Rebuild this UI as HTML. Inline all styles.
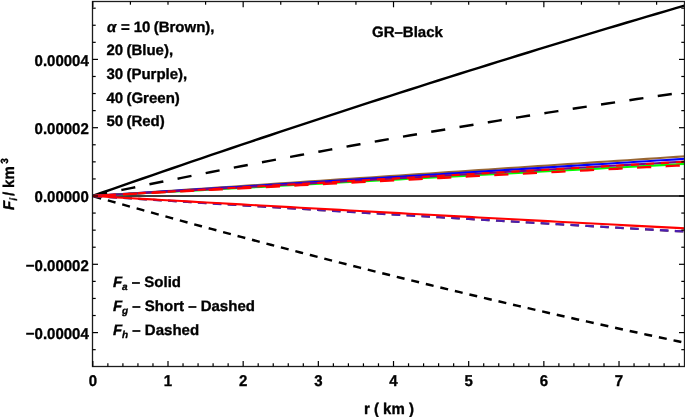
<!DOCTYPE html>
<html><head><meta charset="utf-8"><style>
html,body{margin:0;padding:0;background:#fff;width:685px;height:417px;overflow:hidden}
svg{display:block}
.t{text-rendering:geometricPrecision;font-family:"Liberation Sans",sans-serif;font-weight:bold;font-size:15px;fill:#000;stroke:#000;stroke-width:0.35px}
.l2{text-rendering:geometricPrecision;font-family:"Liberation Sans",sans-serif;font-weight:bold;font-size:15px;fill:#000;stroke:#000;stroke-width:0.35px}
.l{text-rendering:geometricPrecision;font-family:"Liberation Sans",sans-serif;font-weight:bold;font-size:15px;fill:#000;stroke:#000;stroke-width:0.35px;word-spacing:-0.9px}
</style></head><body><svg width="685" height="417" viewBox="0 0 685 417"><clipPath id="cp"><rect x="92.5" y="1.5" width="592.0" height="365.0"/></clipPath><g clip-path="url(#cp)"><line x1="92.5" y1="196.0" x2="684.5" y2="196.0" stroke="#3c3c3c" stroke-width="2"/><path d="M92.50,196.00 L102.40,192.53 L112.30,189.06 L122.20,185.60 L132.10,182.16 L142.00,178.72 L151.90,175.30 L161.80,171.88 L171.70,168.48 L181.60,165.08 L191.50,161.70 L201.40,158.32 L211.30,154.95 L221.20,151.60 L231.10,148.25 L241.00,144.92 L250.90,141.59 L260.80,138.27 L270.70,134.97 L280.60,131.67 L290.50,128.38 L300.40,125.11 L310.30,121.84 L320.20,118.58 L330.10,115.33 L340.00,112.10 L349.90,108.87 L359.80,105.65 L369.70,102.44 L379.60,99.25 L389.50,96.06 L399.40,92.88 L409.30,89.71 L419.20,86.55 L429.10,83.41 L439.00,80.27 L448.90,77.14 L458.80,74.02 L468.70,70.91 L478.60,67.81 L488.50,64.73 L498.40,61.65 L508.30,58.58 L518.20,55.52 L528.10,52.47 L538.00,49.43 L547.90,46.40 L557.80,43.38 L567.70,40.37 L577.60,37.37 L587.50,34.38 L597.40,31.40 L607.30,28.43 L617.20,25.47 L627.10,22.52 L637.00,19.58 L646.90,16.65 L656.80,13.73 L666.70,10.82 L676.60,7.92 L686.50,5.03" fill="none" stroke="#000" stroke-width="2.45"/><path d="M92.50,196.00 L102.40,193.94 L112.30,191.89 L122.20,189.86 L132.10,187.83 L142.00,185.82 L151.90,183.81 L161.80,181.82 L171.70,179.84 L181.60,177.87 L191.50,175.91 L201.40,173.96 L211.30,172.02 L221.20,170.09 L231.10,168.18 L241.00,166.27 L250.90,164.38 L260.80,162.50 L270.70,160.62 L280.60,158.76 L290.50,156.91 L300.40,155.07 L310.30,153.25 L320.20,151.43 L330.10,149.62 L340.00,147.83 L349.90,146.04 L359.80,144.27 L369.70,142.51 L379.60,140.76 L389.50,139.02 L399.40,137.29 L409.30,135.57 L419.20,133.86 L429.10,132.16 L439.00,130.48 L448.90,128.80 L458.80,127.14 L468.70,125.49 L478.60,123.85 L488.50,122.22 L498.40,120.60 L508.30,118.99 L518.20,117.39 L528.10,115.80 L538.00,114.23 L547.90,112.66 L557.80,111.11 L567.70,109.57 L577.60,108.03 L587.50,106.51 L597.40,105.00 L607.30,103.51 L617.20,102.02 L627.10,100.54 L637.00,99.07 L646.90,97.62 L656.80,96.18 L666.70,94.74 L676.60,93.32 L686.50,91.91" fill="none" stroke="#000" stroke-width="2.45" stroke-dasharray="14.2 14.465" stroke-dashoffset="-0.8"/><path d="M92.50,196.00 L102.40,198.81 L112.30,201.61 L122.20,204.40 L132.10,207.17 L142.00,209.93 L151.90,212.68 L161.80,215.42 L171.70,218.15 L181.60,220.86 L191.50,223.56 L201.40,226.25 L211.30,228.93 L221.20,231.60 L231.10,234.25 L241.00,236.89 L250.90,239.52 L260.80,242.14 L270.70,244.74 L280.60,247.33 L290.50,249.91 L300.40,252.48 L310.30,255.03 L320.20,257.58 L330.10,260.11 L340.00,262.63 L349.90,265.14 L359.80,267.63 L369.70,270.11 L379.60,272.58 L389.50,275.04 L399.40,277.49 L409.30,279.92 L419.20,282.34 L429.10,284.75 L439.00,287.15 L448.90,289.53 L458.80,291.91 L468.70,294.27 L478.60,296.62 L488.50,298.95 L498.40,301.28 L508.30,303.59 L518.20,305.89 L528.10,308.18 L538.00,310.45 L547.90,312.71 L557.80,314.97 L567.70,317.20 L577.60,319.43 L587.50,321.65 L597.40,323.85 L607.30,326.04 L617.20,328.22 L627.10,330.38 L637.00,332.54 L646.90,334.68 L656.80,336.81 L666.70,338.92 L676.60,341.03 L686.50,343.12" fill="none" stroke="#000" stroke-width="2.45" stroke-dasharray="8.0 6.945" stroke-dashoffset="-1.0"/><path d="M92.50,196.00 L102.40,195.34 L112.30,194.67 L122.20,194.01 L132.10,193.35 L142.00,192.68 L151.90,192.02 L161.80,191.36 L171.70,190.69 L181.60,190.03 L191.50,189.37 L201.40,188.70 L211.30,188.04 L221.20,187.38 L231.10,186.71 L241.00,186.05 L250.90,185.39 L260.80,184.72 L270.70,184.06 L280.60,183.40 L290.50,182.73 L300.40,182.07 L310.30,181.41 L320.20,180.74 L330.10,180.08 L340.00,179.42 L349.90,178.75 L359.80,178.09 L369.70,177.43 L379.60,176.76 L389.50,176.10 L399.40,175.44 L409.30,174.77 L419.20,174.11 L429.10,173.45 L439.00,172.78 L448.90,172.12 L458.80,171.46 L468.70,170.79 L478.60,170.13 L488.50,169.47 L498.40,168.80 L508.30,168.14 L518.20,167.48 L528.10,166.81 L538.00,166.15 L547.90,165.49 L557.80,164.82 L567.70,164.16 L577.60,163.50 L587.50,162.84 L597.40,162.17 L607.30,161.51 L617.20,160.85 L627.10,160.18 L637.00,159.52 L646.90,158.86 L656.80,158.19 L666.70,157.53 L676.60,156.87 L686.50,156.20" fill="none" stroke="#996633" stroke-width="2.1"/><path d="M92.50,196.00 L102.40,195.38 L112.30,194.76 L122.20,194.14 L132.10,193.51 L142.00,192.89 L151.90,192.27 L161.80,191.65 L171.70,191.03 L181.60,190.41 L191.50,189.78 L201.40,189.16 L211.30,188.54 L221.20,187.92 L231.10,187.30 L241.00,186.68 L250.90,186.06 L260.80,185.43 L270.70,184.81 L280.60,184.19 L290.50,183.57 L300.40,182.95 L310.30,182.33 L320.20,181.71 L330.10,181.08 L340.00,180.46 L349.90,179.84 L359.80,179.22 L369.70,178.60 L379.60,177.98 L389.50,177.35 L399.40,176.73 L409.30,176.11 L419.20,175.49 L429.10,174.87 L439.00,174.25 L448.90,173.63 L458.80,173.00 L468.70,172.38 L478.60,171.76 L488.50,171.14 L498.40,170.52 L508.30,169.90 L518.20,169.27 L528.10,168.65 L538.00,168.03 L547.90,167.41 L557.80,166.79 L567.70,166.17 L577.60,165.55 L587.50,164.92 L597.40,164.30 L607.30,163.68 L617.20,163.06 L627.10,162.44 L637.00,161.82 L646.90,161.20 L656.80,160.57 L666.70,159.95 L676.60,159.33 L686.50,158.71" fill="none" stroke="#0000ff" stroke-width="2.1"/><path d="M92.50,196.00 L102.40,195.46 L112.30,194.93 L122.20,194.39 L132.10,193.85 L142.00,193.31 L151.90,192.78 L161.80,192.24 L171.70,191.70 L181.60,191.16 L191.50,190.63 L201.40,190.09 L211.30,189.55 L221.20,189.02 L231.10,188.48 L241.00,187.94 L250.90,187.40 L260.80,186.87 L270.70,186.33 L280.60,185.79 L290.50,185.25 L300.40,184.72 L310.30,184.18 L320.20,183.64 L330.10,183.11 L340.00,182.57 L349.90,182.03 L359.80,181.49 L369.70,180.96 L379.60,180.42 L389.50,179.88 L399.40,179.34 L409.30,178.81 L419.20,178.27 L429.10,177.73 L439.00,177.20 L448.90,176.66 L458.80,176.12 L468.70,175.58 L478.60,175.05 L488.50,174.51 L498.40,173.97 L508.30,173.43 L518.20,172.90 L528.10,172.36 L538.00,171.82 L547.90,171.29 L557.80,170.75 L567.70,170.21 L577.60,169.67 L587.50,169.14 L597.40,168.60 L607.30,168.06 L617.20,167.52 L627.10,166.99 L637.00,166.45 L646.90,165.91 L656.80,165.38 L666.70,164.84 L676.60,164.30 L686.50,163.76" fill="none" stroke="#00ff00" stroke-width="2.1"/><path d="M92.50,196.00 L102.40,195.42 L112.30,194.85 L122.20,194.27 L132.10,193.70 L142.00,193.12 L151.90,192.55 L161.80,191.97 L171.70,191.39 L181.60,190.82 L191.50,190.24 L201.40,189.67 L211.30,189.09 L221.20,188.52 L231.10,187.94 L241.00,187.36 L250.90,186.79 L260.80,186.21 L270.70,185.64 L280.60,185.06 L290.50,184.49 L300.40,183.91 L310.30,183.33 L320.20,182.76 L330.10,182.18 L340.00,181.61 L349.90,181.03 L359.80,180.45 L369.70,179.88 L379.60,179.30 L389.50,178.73 L399.40,178.15 L409.30,177.58 L419.20,177.00 L429.10,176.42 L439.00,175.85 L448.90,175.27 L458.80,174.70 L468.70,174.12 L478.60,173.55 L488.50,172.97 L498.40,172.39 L508.30,171.82 L518.20,171.24 L528.10,170.67 L538.00,170.09 L547.90,169.52 L557.80,168.94 L567.70,168.36 L577.60,167.79 L587.50,167.21 L597.40,166.64 L607.30,166.06 L617.20,165.49 L627.10,164.91 L637.00,164.33 L646.90,163.76 L656.80,163.18 L666.70,162.61 L676.60,162.03 L686.50,161.46" fill="none" stroke="#800080" stroke-width="2.1"/><path d="M92.50,196.00 L102.40,195.43 L112.30,194.86 L122.20,194.28 L132.10,193.71 L142.00,193.14 L151.90,192.57 L161.80,192.00 L171.70,191.43 L181.60,190.85 L191.50,190.28 L201.40,189.71 L211.30,189.14 L221.20,188.57 L231.10,188.00 L241.00,187.42 L250.90,186.85 L260.80,186.28 L270.70,185.71 L280.60,185.14 L290.50,184.56 L300.40,183.99 L310.30,183.42 L320.20,182.85 L330.10,182.28 L340.00,181.71 L349.90,181.13 L359.80,180.56 L369.70,179.99 L379.60,179.42 L389.50,178.85 L399.40,178.28 L409.30,177.70 L419.20,177.13 L429.10,176.56 L439.00,175.99 L448.90,175.42 L458.80,174.84 L468.70,174.27 L478.60,173.70 L488.50,173.13 L498.40,172.56 L508.30,171.99 L518.20,171.41 L528.10,170.84 L538.00,170.27 L547.90,169.70 L557.80,169.13 L567.70,168.56 L577.60,167.98 L587.50,167.41 L597.40,166.84 L607.30,166.27 L617.20,165.70 L627.10,165.12 L637.00,164.55 L646.90,163.98 L656.80,163.41 L666.70,162.84 L676.60,162.27 L686.50,161.69" fill="none" stroke="#ff0000" stroke-width="2.1" stroke-dasharray="8 6.97" stroke-dashoffset="-0.5"/><path d="M92.50,196.00 L102.40,195.49 L112.30,194.97 L122.20,194.46 L132.10,193.94 L142.00,193.43 L151.90,192.92 L161.80,192.40 L171.70,191.89 L181.60,191.37 L191.50,190.86 L201.40,190.35 L211.30,189.83 L221.20,189.32 L231.10,188.80 L241.00,188.29 L250.90,187.78 L260.80,187.26 L270.70,186.75 L280.60,186.23 L290.50,185.72 L300.40,185.20 L310.30,184.69 L320.20,184.18 L330.10,183.66 L340.00,183.15 L349.90,182.63 L359.80,182.12 L369.70,181.61 L379.60,181.09 L389.50,180.58 L399.40,180.06 L409.30,179.55 L419.20,179.04 L429.10,178.52 L439.00,178.01 L448.90,177.49 L458.80,176.98 L468.70,176.47 L478.60,175.95 L488.50,175.44 L498.40,174.92 L508.30,174.41 L518.20,173.90 L528.10,173.38 L538.00,172.87 L547.90,172.35 L557.80,171.84 L567.70,171.33 L577.60,170.81 L587.50,170.30 L597.40,169.78 L607.30,169.27 L617.20,168.75 L627.10,168.24 L637.00,167.73 L646.90,167.21 L656.80,166.70 L666.70,166.18 L676.60,165.67 L686.50,165.16" fill="none" stroke="#ff0000" stroke-width="2.3" stroke-dasharray="14.2 14.4" stroke-dashoffset="-1.9"/><path d="M92.50,196.00 L102.40,196.62 L112.30,197.24 L122.20,197.86 L132.10,198.48 L142.00,199.10 L151.90,199.72 L161.80,200.34 L171.70,200.95 L181.60,201.57 L191.50,202.18 L201.40,202.79 L211.30,203.41 L221.20,204.02 L231.10,204.63 L241.00,205.24 L250.90,205.85 L260.80,206.46 L270.70,207.06 L280.60,207.67 L290.50,208.27 L300.40,208.88 L310.30,209.48 L320.20,210.08 L330.10,210.69 L340.00,211.29 L349.90,211.89 L359.80,212.48 L369.70,213.08 L379.60,213.68 L389.50,214.28 L399.40,214.87 L409.30,215.47 L419.20,216.06 L429.10,216.65 L439.00,217.24 L448.90,217.83 L458.80,218.42 L468.70,219.01 L478.60,219.60 L488.50,220.19 L498.40,220.77 L508.30,221.36 L518.20,221.94 L528.10,222.53 L538.00,223.11 L547.90,223.69 L557.80,224.27 L567.70,224.85 L577.60,225.43 L587.50,226.01 L597.40,226.59 L607.30,227.16 L617.20,227.74 L627.10,228.31 L637.00,228.89 L646.90,229.46 L656.80,230.03 L666.70,230.60 L676.60,231.17 L686.50,231.74" fill="none" stroke="#996633" stroke-width="2.1" stroke-dasharray="8.6 6.33" stroke-dashoffset="-1.1"/><path d="M92.50,196.00 L102.40,196.62 L112.30,197.24 L122.20,197.86 L132.10,198.48 L142.00,199.09 L151.90,199.71 L161.80,200.33 L171.70,200.94 L181.60,201.55 L191.50,202.17 L201.40,202.78 L211.30,203.39 L221.20,204.00 L231.10,204.61 L241.00,205.22 L250.90,205.82 L260.80,206.43 L270.70,207.04 L280.60,207.64 L290.50,208.24 L300.40,208.85 L310.30,209.45 L320.20,210.05 L330.10,210.65 L340.00,211.25 L349.90,211.85 L359.80,212.44 L369.70,213.04 L379.60,213.64 L389.50,214.23 L399.40,214.82 L409.30,215.42 L419.20,216.01 L429.10,216.60 L439.00,217.19 L448.90,217.78 L458.80,218.37 L468.70,218.96 L478.60,219.54 L488.50,220.13 L498.40,220.71 L508.30,221.30 L518.20,221.88 L528.10,222.46 L538.00,223.04 L547.90,223.62 L557.80,224.20 L567.70,224.78 L577.60,225.36 L587.50,225.94 L597.40,226.51 L607.30,227.09 L617.20,227.66 L627.10,228.23 L637.00,228.81 L646.90,229.38 L656.80,229.95 L666.70,230.52 L676.60,231.09 L686.50,231.65" fill="none" stroke="#4a1fb0" stroke-width="2.3" stroke-dasharray="8.6 6.33" stroke-dashoffset="-1.1"/><path d="M92.50,196.00 L102.40,196.57 L112.30,197.13 L122.20,197.70 L132.10,198.26 L142.00,198.83 L151.90,199.39 L161.80,199.95 L171.70,200.51 L181.60,201.07 L191.50,201.63 L201.40,202.19 L211.30,202.74 L221.20,203.30 L231.10,203.86 L241.00,204.41 L250.90,204.96 L260.80,205.52 L270.70,206.07 L280.60,206.62 L290.50,207.17 L300.40,207.72 L310.30,208.27 L320.20,208.81 L330.10,209.36 L340.00,209.91 L349.90,210.45 L359.80,210.99 L369.70,211.54 L379.60,212.08 L389.50,212.62 L399.40,213.16 L409.30,213.70 L419.20,214.24 L429.10,214.78 L439.00,215.31 L448.90,215.85 L458.80,216.38 L468.70,216.92 L478.60,217.45 L488.50,217.98 L498.40,218.51 L508.30,219.04 L518.20,219.57 L528.10,220.10 L538.00,220.63 L547.90,221.15 L557.80,221.68 L567.70,222.20 L577.60,222.73 L587.50,223.25 L597.40,223.77 L607.30,224.29 L617.20,224.81 L627.10,225.33 L637.00,225.85 L646.90,226.37 L656.80,226.89 L666.70,227.40 L676.60,227.92 L686.50,228.43" fill="none" stroke="#ff0000" stroke-width="2.1"/></g><rect x="92.5" y="1.5" width="592.0" height="365.0" fill="none" stroke="#1c1c1c" stroke-width="1.3"/><line x1="92.83" y1="366.5" x2="92.83" y2="361.0" stroke="#000" stroke-width="1.2"/><line x1="107.86" y1="366.5" x2="107.86" y2="363.3" stroke="#000" stroke-width="1.2"/><line x1="122.90" y1="366.5" x2="122.90" y2="363.3" stroke="#000" stroke-width="1.2"/><line x1="137.93" y1="366.5" x2="137.93" y2="363.3" stroke="#000" stroke-width="1.2"/><line x1="152.97" y1="366.5" x2="152.97" y2="363.3" stroke="#000" stroke-width="1.2"/><line x1="168.00" y1="366.5" x2="168.00" y2="361.0" stroke="#000" stroke-width="1.2"/><line x1="183.03" y1="366.5" x2="183.03" y2="363.3" stroke="#000" stroke-width="1.2"/><line x1="198.07" y1="366.5" x2="198.07" y2="363.3" stroke="#000" stroke-width="1.2"/><line x1="213.10" y1="366.5" x2="213.10" y2="363.3" stroke="#000" stroke-width="1.2"/><line x1="228.14" y1="366.5" x2="228.14" y2="363.3" stroke="#000" stroke-width="1.2"/><line x1="243.17" y1="366.5" x2="243.17" y2="361.0" stroke="#000" stroke-width="1.2"/><line x1="258.20" y1="366.5" x2="258.20" y2="363.3" stroke="#000" stroke-width="1.2"/><line x1="273.24" y1="366.5" x2="273.24" y2="363.3" stroke="#000" stroke-width="1.2"/><line x1="288.27" y1="366.5" x2="288.27" y2="363.3" stroke="#000" stroke-width="1.2"/><line x1="303.31" y1="366.5" x2="303.31" y2="363.3" stroke="#000" stroke-width="1.2"/><line x1="318.34" y1="366.5" x2="318.34" y2="361.0" stroke="#000" stroke-width="1.2"/><line x1="333.37" y1="366.5" x2="333.37" y2="363.3" stroke="#000" stroke-width="1.2"/><line x1="348.41" y1="366.5" x2="348.41" y2="363.3" stroke="#000" stroke-width="1.2"/><line x1="363.44" y1="366.5" x2="363.44" y2="363.3" stroke="#000" stroke-width="1.2"/><line x1="378.48" y1="366.5" x2="378.48" y2="363.3" stroke="#000" stroke-width="1.2"/><line x1="393.51" y1="366.5" x2="393.51" y2="361.0" stroke="#000" stroke-width="1.2"/><line x1="408.54" y1="366.5" x2="408.54" y2="363.3" stroke="#000" stroke-width="1.2"/><line x1="423.58" y1="366.5" x2="423.58" y2="363.3" stroke="#000" stroke-width="1.2"/><line x1="438.61" y1="366.5" x2="438.61" y2="363.3" stroke="#000" stroke-width="1.2"/><line x1="453.65" y1="366.5" x2="453.65" y2="363.3" stroke="#000" stroke-width="1.2"/><line x1="468.68" y1="366.5" x2="468.68" y2="361.0" stroke="#000" stroke-width="1.2"/><line x1="483.71" y1="366.5" x2="483.71" y2="363.3" stroke="#000" stroke-width="1.2"/><line x1="498.75" y1="366.5" x2="498.75" y2="363.3" stroke="#000" stroke-width="1.2"/><line x1="513.78" y1="366.5" x2="513.78" y2="363.3" stroke="#000" stroke-width="1.2"/><line x1="528.82" y1="366.5" x2="528.82" y2="363.3" stroke="#000" stroke-width="1.2"/><line x1="543.85" y1="366.5" x2="543.85" y2="361.0" stroke="#000" stroke-width="1.2"/><line x1="558.88" y1="366.5" x2="558.88" y2="363.3" stroke="#000" stroke-width="1.2"/><line x1="573.92" y1="366.5" x2="573.92" y2="363.3" stroke="#000" stroke-width="1.2"/><line x1="588.95" y1="366.5" x2="588.95" y2="363.3" stroke="#000" stroke-width="1.2"/><line x1="603.99" y1="366.5" x2="603.99" y2="363.3" stroke="#000" stroke-width="1.2"/><line x1="619.02" y1="366.5" x2="619.02" y2="361.0" stroke="#000" stroke-width="1.2"/><line x1="634.05" y1="366.5" x2="634.05" y2="363.3" stroke="#000" stroke-width="1.2"/><line x1="649.09" y1="366.5" x2="649.09" y2="363.3" stroke="#000" stroke-width="1.2"/><line x1="664.12" y1="366.5" x2="664.12" y2="363.3" stroke="#000" stroke-width="1.2"/><line x1="679.16" y1="366.5" x2="679.16" y2="363.3" stroke="#000" stroke-width="1.2"/><line x1="92.83" y1="1.5" x2="92.83" y2="7.3" stroke="#000" stroke-width="1.2"/><line x1="130.41" y1="1.5" x2="130.41" y2="4.7" stroke="#000" stroke-width="1.2"/><line x1="168.00" y1="1.5" x2="168.00" y2="4.7" stroke="#000" stroke-width="1.2"/><line x1="205.58" y1="1.5" x2="205.58" y2="4.7" stroke="#000" stroke-width="1.2"/><line x1="243.17" y1="1.5" x2="243.17" y2="7.3" stroke="#000" stroke-width="1.2"/><line x1="280.75" y1="1.5" x2="280.75" y2="4.7" stroke="#000" stroke-width="1.2"/><line x1="318.34" y1="1.5" x2="318.34" y2="4.7" stroke="#000" stroke-width="1.2"/><line x1="355.93" y1="1.5" x2="355.93" y2="4.7" stroke="#000" stroke-width="1.2"/><line x1="393.51" y1="1.5" x2="393.51" y2="7.3" stroke="#000" stroke-width="1.2"/><line x1="431.09" y1="1.5" x2="431.09" y2="4.7" stroke="#000" stroke-width="1.2"/><line x1="468.68" y1="1.5" x2="468.68" y2="4.7" stroke="#000" stroke-width="1.2"/><line x1="506.26" y1="1.5" x2="506.26" y2="4.7" stroke="#000" stroke-width="1.2"/><line x1="543.85" y1="1.5" x2="543.85" y2="7.3" stroke="#000" stroke-width="1.2"/><line x1="581.44" y1="1.5" x2="581.44" y2="4.7" stroke="#000" stroke-width="1.2"/><line x1="619.02" y1="1.5" x2="619.02" y2="4.7" stroke="#000" stroke-width="1.2"/><line x1="656.61" y1="1.5" x2="656.61" y2="4.7" stroke="#000" stroke-width="1.2"/><line x1="92.5" y1="349.67" x2="95.7" y2="349.67" stroke="#000" stroke-width="1.2"/><line x1="684.5" y1="349.67" x2="681.3" y2="349.67" stroke="#000" stroke-width="1.2"/><line x1="92.5" y1="332.60" x2="98.0" y2="332.60" stroke="#000" stroke-width="1.2"/><line x1="684.5" y1="332.60" x2="679.0" y2="332.60" stroke="#000" stroke-width="1.2"/><line x1="92.5" y1="315.52" x2="95.7" y2="315.52" stroke="#000" stroke-width="1.2"/><line x1="684.5" y1="315.52" x2="681.3" y2="315.52" stroke="#000" stroke-width="1.2"/><line x1="92.5" y1="298.45" x2="95.7" y2="298.45" stroke="#000" stroke-width="1.2"/><line x1="684.5" y1="298.45" x2="681.3" y2="298.45" stroke="#000" stroke-width="1.2"/><line x1="92.5" y1="281.38" x2="95.7" y2="281.38" stroke="#000" stroke-width="1.2"/><line x1="684.5" y1="281.38" x2="681.3" y2="281.38" stroke="#000" stroke-width="1.2"/><line x1="92.5" y1="264.30" x2="98.0" y2="264.30" stroke="#000" stroke-width="1.2"/><line x1="684.5" y1="264.30" x2="679.0" y2="264.30" stroke="#000" stroke-width="1.2"/><line x1="92.5" y1="247.22" x2="95.7" y2="247.22" stroke="#000" stroke-width="1.2"/><line x1="684.5" y1="247.22" x2="681.3" y2="247.22" stroke="#000" stroke-width="1.2"/><line x1="92.5" y1="230.15" x2="95.7" y2="230.15" stroke="#000" stroke-width="1.2"/><line x1="684.5" y1="230.15" x2="681.3" y2="230.15" stroke="#000" stroke-width="1.2"/><line x1="92.5" y1="213.07" x2="95.7" y2="213.07" stroke="#000" stroke-width="1.2"/><line x1="684.5" y1="213.07" x2="681.3" y2="213.07" stroke="#000" stroke-width="1.2"/><line x1="92.5" y1="196.00" x2="98.0" y2="196.00" stroke="#000" stroke-width="1.2"/><line x1="684.5" y1="196.00" x2="679.0" y2="196.00" stroke="#000" stroke-width="1.2"/><line x1="92.5" y1="178.93" x2="95.7" y2="178.93" stroke="#000" stroke-width="1.2"/><line x1="684.5" y1="178.93" x2="681.3" y2="178.93" stroke="#000" stroke-width="1.2"/><line x1="92.5" y1="161.85" x2="95.7" y2="161.85" stroke="#000" stroke-width="1.2"/><line x1="684.5" y1="161.85" x2="681.3" y2="161.85" stroke="#000" stroke-width="1.2"/><line x1="92.5" y1="144.78" x2="95.7" y2="144.78" stroke="#000" stroke-width="1.2"/><line x1="684.5" y1="144.78" x2="681.3" y2="144.78" stroke="#000" stroke-width="1.2"/><line x1="92.5" y1="127.70" x2="98.0" y2="127.70" stroke="#000" stroke-width="1.2"/><line x1="684.5" y1="127.70" x2="679.0" y2="127.70" stroke="#000" stroke-width="1.2"/><line x1="92.5" y1="110.63" x2="95.7" y2="110.63" stroke="#000" stroke-width="1.2"/><line x1="684.5" y1="110.63" x2="681.3" y2="110.63" stroke="#000" stroke-width="1.2"/><line x1="92.5" y1="93.55" x2="95.7" y2="93.55" stroke="#000" stroke-width="1.2"/><line x1="684.5" y1="93.55" x2="681.3" y2="93.55" stroke="#000" stroke-width="1.2"/><line x1="92.5" y1="76.48" x2="95.7" y2="76.48" stroke="#000" stroke-width="1.2"/><line x1="684.5" y1="76.48" x2="681.3" y2="76.48" stroke="#000" stroke-width="1.2"/><line x1="92.5" y1="59.40" x2="98.0" y2="59.40" stroke="#000" stroke-width="1.2"/><line x1="684.5" y1="59.40" x2="679.0" y2="59.40" stroke="#000" stroke-width="1.2"/><line x1="92.5" y1="42.33" x2="95.7" y2="42.33" stroke="#000" stroke-width="1.2"/><line x1="684.5" y1="42.33" x2="681.3" y2="42.33" stroke="#000" stroke-width="1.2"/><line x1="92.5" y1="25.25" x2="95.7" y2="25.25" stroke="#000" stroke-width="1.2"/><line x1="684.5" y1="25.25" x2="681.3" y2="25.25" stroke="#000" stroke-width="1.2"/><line x1="92.5" y1="8.18" x2="95.7" y2="8.18" stroke="#000" stroke-width="1.2"/><line x1="684.5" y1="8.18" x2="681.3" y2="8.18" stroke="#000" stroke-width="1.2"/><g opacity="0.999"><text transform="translate(92.83,385.80) scale(1,1.04)" class="t" text-anchor="middle">0</text><text transform="translate(168.00,385.80) scale(1,1.04)" class="t" text-anchor="middle">1</text><text transform="translate(243.17,385.80) scale(1,1.04)" class="t" text-anchor="middle">2</text><text transform="translate(318.34,385.80) scale(1,1.04)" class="t" text-anchor="middle">3</text><text transform="translate(393.51,385.80) scale(1,1.04)" class="t" text-anchor="middle">4</text><text transform="translate(468.68,385.80) scale(1,1.04)" class="t" text-anchor="middle">5</text><text transform="translate(543.85,385.80) scale(1,1.04)" class="t" text-anchor="middle">6</text><text transform="translate(619.02,385.80) scale(1,1.04)" class="t" text-anchor="middle">7</text><text transform="translate(88.80,65.80) scale(1,1.04)" class="t" text-anchor="end">0.00004</text><text transform="translate(88.80,134.10) scale(1,1.04)" class="t" text-anchor="end">0.00002</text><text transform="translate(88.80,202.40) scale(1,1.04)" class="t" text-anchor="end">0.00000</text><text transform="translate(88.80,270.70) scale(1,1.04)" class="t" text-anchor="end">−0.00002</text><text transform="translate(88.80,339.00) scale(1,1.04)" class="t" text-anchor="end">−0.00004</text><text transform="translate(388.90,413.80) scale(1,1.04)" class="t" text-anchor="middle">r ( km )</text><text transform="translate(13.80,209.90) rotate(-90) scale(1,1.04)" class="t"><tspan font-style="italic">F</tspan><tspan font-style="italic" font-size="10" dy="3">i</tspan><tspan dy="-3" dx="2">/</tspan><tspan dx="-0.3"> km</tspan><tspan font-size="10" dy="-5.6" dx="2.5">3</tspan></text><text transform="translate(106.50,31.60) scale(1,1.0)" class="l"><tspan font-style='italic' dx='0.5'>α</tspan><tspan dx='1.3'> =</tspan><tspan dx='0.8'> 10 (Brown),</tspan></text><text transform="translate(106.50,55.30) scale(1,1.0)" class="l">20 (Blue),</text><text transform="translate(106.50,79.40) scale(1,1.0)" class="l">30 (Purple),</text><text transform="translate(106.50,103.20) scale(1,1.0)" class="l">40 (Green)</text><text transform="translate(106.50,126.20) scale(1,1.0)" class="l">50 (Red)</text><text transform="translate(372.00,36.90) scale(1,1.0)" class="l">GR–Black</text><text transform="translate(112.90,287.20) scale(1,1.0)" class="l2"><tspan font-style="italic">F</tspan><tspan font-style="italic" font-size="10" dy="3">a</tspan><tspan dy="-3"> – Solid</tspan></text><text transform="translate(112.90,310.60) scale(1,1.0)" class="l2"><tspan font-style="italic">F</tspan><tspan font-style="italic" font-size="10" dy="3">g</tspan><tspan dy="-3"> – Short – Dashed</tspan></text><text transform="translate(112.90,335.10) scale(1,1.0)" class="l2"><tspan font-style="italic">F</tspan><tspan font-style="italic" font-size="10" dy="3">h</tspan><tspan dy="-3"> – Dashed</tspan></text></g></svg></body></html>
